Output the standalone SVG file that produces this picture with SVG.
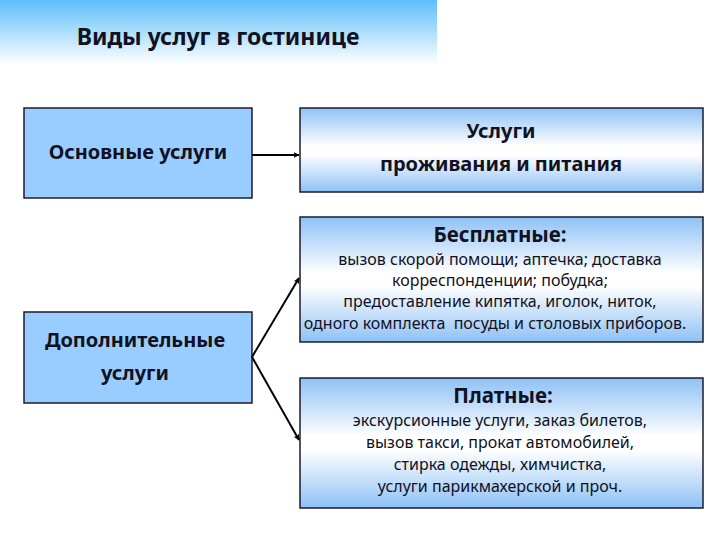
<svg xmlns="http://www.w3.org/2000/svg" width="720" height="540" viewBox="0 0 720 540">
<defs>
<linearGradient id="gTitle" x1="0" y1="0" x2="0" y2="1">
<stop offset="0" stop-color="#5cbff9"/>
<stop offset="1" stop-color="#ffffff"/>
</linearGradient>
<linearGradient id="gBox" x1="0" y1="0" x2="0" y2="1">
<stop offset="0" stop-color="#8ec1f5"/>
<stop offset="0.45" stop-color="#ffffff"/>
<stop offset="0.55" stop-color="#ffffff"/>
<stop offset="1" stop-color="#8ec1f5"/>
</linearGradient>
<marker id="arr" viewBox="0 0 10 10" refX="9" refY="5" markerWidth="6" markerHeight="6" orient="auto" markerUnits="userSpaceOnUse">
<path d="M0,0 L10,5 L0,10 L2,5 z" fill="#000"/>
</marker>
<style>
.solid{fill:#99ccff;stroke:#1c1c2c;stroke-width:1.5}
.grad{fill:url(#gBox);stroke:#1c1c2c;stroke-width:1.5}
text{font-family:"Noto Sans","Open Sans","Liberation Sans",sans-serif;fill:#111122;text-anchor:middle}
.big{font-size:20px;font-weight:bold}
.hd{font-size:20.5px;font-weight:bold}
.sm{font-size:16px}
.conn{stroke:#000;stroke-width:2;fill:none;marker-end:url(#arr)}
</style>
</defs>
<rect width="720" height="540" fill="#ffffff"/>
<g id="title">
<rect x="0" y="0" width="437" height="65" fill="url(#gTitle)"/>
<text x="218" y="45" style="font-size:23px;font-weight:bold">Виды услуг в гостинице</text>
</g>
<g id="basic">
<rect class="solid" x="24" y="108" width="228" height="90"/>
<text class="big" x="138" y="159">Основные услуги</text>
</g>
<g id="lodging">
<rect class="grad" x="300" y="108" width="403" height="84"/>
<text class="big" x="501" y="138">Услуги</text>
<text class="big" x="501" y="171">проживания и питания</text>
</g>
<g id="extra">
<rect class="solid" x="24" y="312" width="228" height="91"/>
<text class="big" x="135" y="347">Дополнительные</text>
<text class="big" x="135" y="380">услуги</text>
</g>
<g id="free">
<rect class="grad" x="300" y="217" width="403" height="125"/>
<text class="hd" x="500" y="242">Бесплатные:</text>
<text class="sm" x="500" y="265">вызов скорой помощи; аптечка; доставка</text>
<text class="sm" x="500" y="286">корреспонденции; побудка;</text>
<text class="sm" x="500" y="307">предоставление кипятка, иголок, ниток,</text>
<text class="sm" x="495" y="329">одного комплекта&#160; посуды и столовых приборов.</text>
</g>
<g id="paid">
<rect class="grad" x="300" y="378" width="403" height="130"/>
<text class="hd" x="503" y="403">Платные:</text>
<text class="sm" x="500" y="426">экскурсионные услуги, заказ билетов,</text>
<text class="sm" x="500" y="448">вызов такси, прокат автомобилей,</text>
<text class="sm" x="500" y="470">стирка одежды, химчистка,</text>
<text class="sm" x="500" y="492">услуги парикмахерской и проч.</text>
</g>
<g id="connectors">
<path class="conn" d="M252,155 L299,155"/>
<path class="conn" d="M252,357 L299,278"/>
<path class="conn" d="M252,357 L299,440"/>
</g>
</svg>
